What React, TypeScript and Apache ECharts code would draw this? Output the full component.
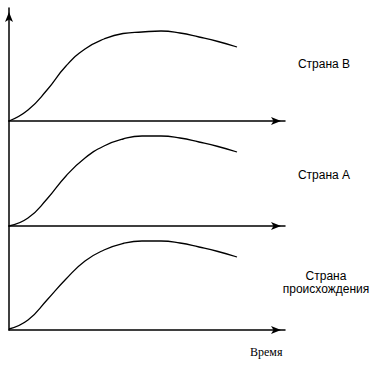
import React, { useEffect, useRef } from "react";
import * as echarts from "echarts";

// Time positions (shared by all panels)
const time = [0, 19, 38, 57, 76, 95, 114, 133, 152, 171, 190, 209, 228];
// Level curves for each country
const countryB = [0, 11, 31, 55, 72, 82, 87.5, 89, 90, 88, 84, 79.5, 74];
const countryA = [0, 8, 27, 50, 68, 80, 87, 90, 90, 88, 84, 79.5, 74];
const countryOrigin = [1, 10, 30, 51, 69, 80, 86.5, 89, 89, 87, 83, 78.5, 73];

const panelLabels = ["Страна В", "Страна А", "Страна", "происхождения"];
const xAxisName = "Время";

export default function App() {
  const ref = useRef<HTMLDivElement>(null);
  useEffect(() => {
    if (!ref.current) return;
    const chart = echarts.init(ref.current, undefined, { renderer: "svg" });
    const lineStyle = { color: "#000", width: 1.5 };
    const grids = [
      { left: 9, top: 8, width: 276, height: 113 },
      { left: 9, top: 121, width: 276, height: 105 },
      { left: 9, top: 226, width: 276, height: 104 },
    ];
    const yMax = [113, 105, 104];
    const seriesData = [countryB, countryA, countryOrigin];
    const sans = "12px 'Liberation Sans', Arial, sans-serif";
    const label = (text: string, x: number, y: number) => ({
      type: "text",
      x,
      y,
      style: { text, font: sans, fill: "#000", align: "center", verticalAlign: "middle" },
    });
    chart.setOption({
      animation: false,
      backgroundColor: "#fff",
      grid: grids,
      xAxis: grids.map((_, i) => ({
        type: "value",
        gridIndex: i,
        min: 0,
        max: 276,
        axisLine: {
          show: true,
          onZero: false,
          lineStyle,
          symbol: ["none", "arrow"],
          symbolSize: [6, 10],
          symbolOffset: [0, -4],
        },
        axisTick: { show: false },
        axisLabel: { show: false },
        splitLine: { show: false },
      })),
      yAxis: grids.map((_, i) => ({
        type: "value",
        gridIndex: i,
        min: 0,
        max: yMax[i],
        axisLine: {
          show: true,
          lineStyle,
          symbol: i === 0 ? ["none", "arrow"] : ["none", "none"],
          symbolSize: [6, 10],
          symbolOffset: [0, -4],
        },
        axisTick: { show: false },
        axisLabel: { show: false },
        splitLine: { show: false },
      })),
      series: seriesData.map((d, i) => ({
        type: "line",
        xAxisIndex: i,
        yAxisIndex: i,
        data: time.map((t, j) => [t, d[j]]),
        smooth: 0.5,
        showSymbol: false,
        lineStyle: { color: "#000", width: 1.3 },
      })),
      graphic: [
        label(panelLabels[0], 324, 64),
        label(panelLabels[1], 324, 175),
        label(panelLabels[2], 326, 276),
        label(panelLabels[3], 326, 289),
        {
          type: "text",
          left: 250,
          top: 346,
          style: { text: xAxisName, font: "12px 'Liberation Serif', 'Times New Roman', serif", fill: "#000" },
        },
      ],
    });
    return () => chart.dispose();
  }, []);
  return <div ref={ref} style={{ position: "absolute", left: 0, top: 0, width: 387, height: 366 }} />;
}
